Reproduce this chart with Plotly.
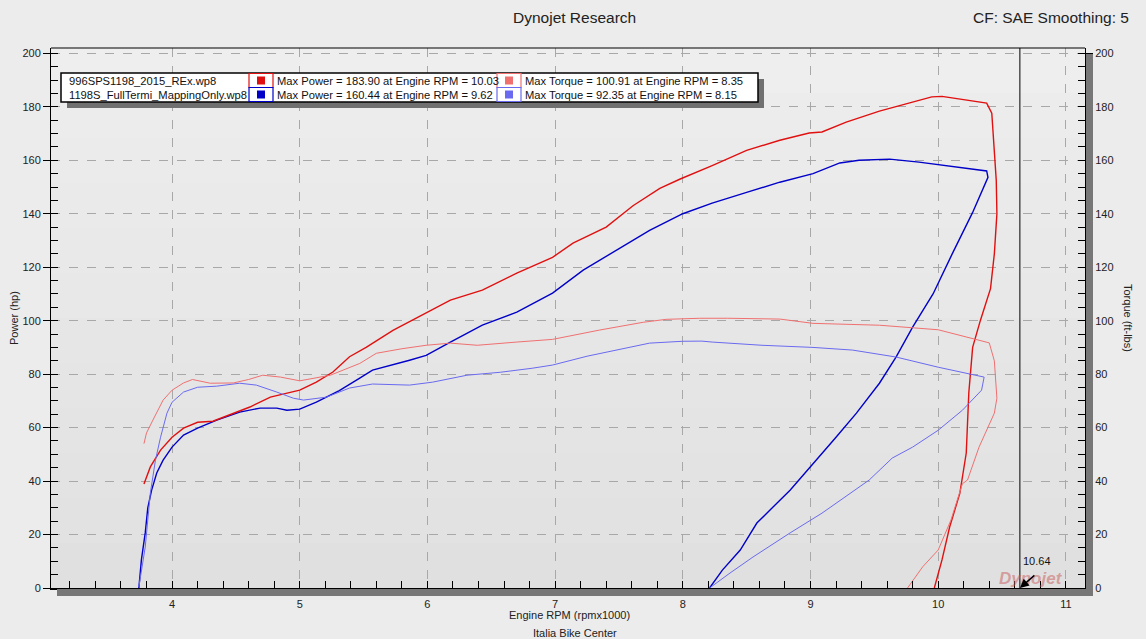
import plotly.graph_objects as go

# ---------------- data ----------------
run1_power_rpm = [3.78, 3.83, 3.91, 4.00, 4.09, 4.20, 4.32, 4.48, 4.61, 4.77, 5.00, 5.13, 5.26, 5.39, 5.52,
                  5.73, 5.99, 6.18, 6.43, 6.70, 6.98, 7.14, 7.40, 7.61, 7.82, 7.98, 8.23, 8.50, 8.76, 8.99,
                  9.09, 9.28, 9.54, 9.80, 9.95, 10.03, 10.19, 10.38, 10.42, 10.44, 10.455, 10.46, 10.44,
                  10.41, 10.33, 10.27, 10.24, 10.22, 10.17, 10.09, 10.03, 9.97]
run1_power_hp = [38.9, 45.3, 51.6, 56.4, 59.8, 62.0, 62.4, 65.4, 67.7, 71.4, 74.0, 77.0, 80.8, 86.5, 90.0,
                 96.4, 103.0, 107.7, 111.4, 117.8, 123.7, 129.0, 135.0, 143.0, 149.5, 153.0, 158.0, 163.7,
                 167.5, 170.2, 170.6, 174.3, 178.4, 181.8, 183.7, 183.9, 182.8, 181.4, 177.6, 165.0, 152.5,
                 140.0, 125.0, 112.0, 100.0, 90.0, 73.0, 50.5, 35.5, 22.8, 10.5, 0.0]

run1_torque_rpm = [3.78, 3.80, 3.85, 3.93, 4.00, 4.09, 4.16, 4.30, 4.48, 4.60, 4.71, 4.85, 5.00, 5.24, 5.47,
                   5.60, 5.80, 5.99, 6.18, 6.39, 6.70, 6.98, 7.35, 7.69, 7.87, 8.13, 8.35, 8.76, 9.02, 9.54,
                   10.00, 10.27, 10.40, 10.44, 10.46, 10.44, 10.32, 10.23, 10.19, 10.10, 10.00, 9.88, 9.76]
run1_torque_ftlb = [54.0, 58.0, 62.8, 70.3, 74.0, 76.7, 78.0, 76.6, 76.7, 78.0, 79.6, 78.9, 77.5, 79.6, 84.0,
                    87.8, 89.5, 90.8, 91.6, 90.8, 92.0, 93.0, 96.5, 99.4, 100.5, 100.9, 100.91, 100.6, 99.0,
                    98.3, 96.6, 93.2, 91.7, 85.0, 71.0, 65.4, 52.7, 40.4, 39.0, 25.4, 14.2, 8.0, 0.0]

run2_power_rpm = [3.74, 3.76, 3.79, 3.81, 3.84, 3.88, 3.93, 4.00, 4.09, 4.20, 4.35, 4.53, 4.69, 4.82, 4.90,
                  5.00, 5.13, 5.31, 5.47, 5.57, 5.86, 5.99, 6.18, 6.43, 6.70, 6.98, 7.22, 7.48, 7.74, 8.00,
                  8.23, 8.50, 8.76, 9.02, 9.23, 9.38, 9.62, 9.85, 10.06, 10.24, 10.38, 10.39, 10.27, 10.11,
                  9.96, 9.80, 9.67, 9.54, 9.36, 9.20, 9.02, 8.84, 8.58, 8.45, 8.31, 8.21]
run2_power_hp = [0.0, 10.5, 20.6, 30.0, 36.6, 43.0, 47.8, 52.7, 57.2, 59.8, 62.8, 65.8, 67.3, 67.3, 66.5,
                 66.9, 69.5, 73.8, 78.5, 81.5, 85.2, 87.0, 92.0, 98.3, 103.2, 110.3, 118.9, 126.4, 133.8,
                 140.0, 144.0, 148.0, 151.8, 155.0, 159.0, 160.0, 160.44, 159.3, 158.0, 157.0, 156.0, 153.6,
                 140.5, 125.0, 110.0, 97.6, 86.4, 76.6, 65.4, 56.4, 46.7, 36.6, 24.3, 14.2, 6.7, 0.0]

run2_torque_rpm = [3.74, 3.79, 3.83, 3.87, 3.91, 3.96, 4.00, 4.09, 4.20, 4.35, 4.53, 4.66, 4.82, 4.95, 5.03,
                   5.21, 5.39, 5.57, 5.86, 6.04, 6.31, 6.57, 6.82, 6.98, 7.25, 7.48, 7.74, 8.00, 8.15, 8.23,
                   8.62, 9.02, 9.33, 9.67, 10.00, 10.36, 10.34, 10.19, 10.00, 9.80, 9.64, 9.46, 9.09, 8.84,
                   8.55, 8.37, 8.21]
run2_torque_ftlb = [0.4, 15.3, 35.5, 47.8, 56.4, 65.4, 69.5, 73.3, 75.1, 75.5, 76.6, 75.9, 73.3, 71.0, 70.3,
                    71.4, 74.8, 76.3, 75.9, 77.0, 79.6, 80.7, 82.2, 83.4, 86.7, 89.0, 91.6, 92.3, 92.35, 92.0,
                    90.8, 90.0, 89.0, 86.4, 82.6, 78.9, 74.0, 66.5, 59.0, 52.7, 48.6, 40.4, 28.0, 20.6, 11.6,
                    5.6, 0.0]

run_names = ["996SPS1198_2015_REx.wp8", "1198S_FullTermi_MappingOnly.wp8"]
power_labels = ["Max Power = 183.90 at Engine RPM = 10.03", "Max Power = 160.44 at Engine RPM = 9.62"]
torque_labels = ["Max Torque = 100.91 at Engine RPM = 8.35", "Max Torque = 92.35 at Engine RPM = 8.15"]
cursor_rpm = 10.64
y_ticks = list(range(0, 201, 20))
x_ticks = [4, 5, 6, 7, 8, 9, 10, 11]

# ---------------- styling ----------------
C_P1, C_T1 = "#e01010", "#f07070"
C_P2, C_T2 = "#0000c8", "#6a6af0"
FONT = "Liberation Sans"

W, H = 1146, 639
L, R, T, B = 51, 61, 48, 51
PW, PH = W - L - R, H - T - B


def px(x):
    return (x - L) / PW


def py(y):
    return (H - B - y) / PH


fig = go.Figure()
fig.add_trace(go.Scatter(x=run2_torque_rpm, y=run2_torque_ftlb, mode="lines", yaxis="y2",
                         line=dict(color=C_T2, width=1), showlegend=False))
fig.add_trace(go.Scatter(x=run1_torque_rpm, y=run1_torque_ftlb, mode="lines", yaxis="y2",
                         line=dict(color=C_T1, width=1), showlegend=False))
fig.add_trace(go.Scatter(x=run2_power_rpm, y=run2_power_hp, mode="lines",
                         line=dict(color=C_P2, width=1.4), showlegend=False))
fig.add_trace(go.Scatter(x=run1_power_rpm, y=run1_power_hp, mode="lines",
                         line=dict(color=C_P1, width=1.4), showlegend=False))

shapes = []
# background bands (soft gradient)
n = 12
for i in range(n):
    g = int(0xee - i * 1.2)
    shapes.append(dict(type="rect", xref="paper", yref="paper", x0=0, x1=1,
                       y0=1 - (i + 1) / n, y1=1 - i / n, layer="below", line_width=0,
                       fillcolor=f"rgb({g},{g},{g})"))
# axis shadows
shapes.append(dict(type="rect", xref="paper", yref="paper", x0=px(57), x1=px(1093), y0=py(596), y1=py(589),
                   fillcolor="#777777", line_width=0))
shapes.append(dict(type="rect", xref="paper", yref="paper", x0=px(1086), x1=px(1093), y0=py(596), y1=py(54),
                   fillcolor="#777777", line_width=0))
# cursor line
shapes.append(dict(type="line", xref="x", yref="paper", x0=cursor_rpm, x1=cursor_rpm, y0=0, y1=1,
                   line=dict(color="black", width=1)))
# legend box with shadow
lx0, lx1, ly0, ly1 = 61, 758, 73, 102
shapes.append(dict(type="rect", xref="paper", yref="paper", x0=px(lx0 + 6), x1=px(lx1 + 6),
                   y0=py(ly1 + 6), y1=py(ly0 + 6), fillcolor="#707070", line_width=0))
shapes.append(dict(type="rect", xref="paper", yref="paper", x0=px(lx0), x1=px(lx1),
                   y0=py(ly1), y1=py(ly0), fillcolor="white", line=dict(color="black", width=1.5)))

annotations = []
rows_y = [80.5, 94.5]
sw = [(C_P1, C_T1), (C_P2, C_T2)]
LF = dict(family=FONT, size=11.2, color="#111")
for i in range(2):
    yc = rows_y[i]
    annotations.append(dict(xref="paper", yref="paper", x=px(67), y=py(yc), text=run_names[i],
                            showarrow=False, xanchor="left", yanchor="middle", font=LF))
    for j, bx in enumerate([249, 497]):
        col = sw[i][j]
        shapes.append(dict(type="rect", xref="paper", yref="paper", x0=px(bx), x1=px(bx + 24),
                           y0=py(yc + 7), y1=py(yc - 7), fillcolor="white", line=dict(color=col, width=1.2)))
        shapes.append(dict(type="rect", xref="paper", yref="paper", x0=px(bx + 8), x1=px(bx + 16),
                           y0=py(yc + 4), y1=py(yc - 4), fillcolor=col, line_width=0))
    annotations.append(dict(xref="paper", yref="paper", x=px(275), y=py(yc), text=power_labels[i],
                            showarrow=False, xanchor="left", yanchor="middle", font=LF))
    annotations.append(dict(xref="paper", yref="paper", x=px(523), y=py(yc), text=torque_labels[i],
                            showarrow=False, xanchor="left", yanchor="middle", font=LF))

# titles
annotations += [
    dict(xref="paper", yref="paper", x=px(574), y=py(17), text="Dynojet Research", showarrow=False,
         xanchor="center", yanchor="middle", font=dict(family=FONT, size=15.5, color="#222")),
    dict(xref="paper", yref="paper", x=px(1131), y=py(17), text="CF: SAE Smoothing: 5", showarrow=False,
         xanchor="right", yanchor="middle", font=dict(family=FONT, size=15.5, color="#222")),
    dict(xref="paper", yref="paper", x=px(14), y=py(318), text="Power (hp)", showarrow=False, textangle=-90,
         xanchor="center", yanchor="middle", font=dict(family=FONT, size=11, color="#222")),
    dict(xref="paper", yref="paper", x=px(1128), y=py(318), text="Torque (ft-lbs)", showarrow=False,
         textangle=90, xanchor="center", yanchor="middle", font=dict(family=FONT, size=11, color="#222")),
    dict(xref="paper", yref="paper", x=px(569), y=py(615), text="Engine RPM (rpmx1000)", showarrow=False,
         xanchor="center", yanchor="middle", font=dict(family=FONT, size=11, color="#222")),
    dict(xref="paper", yref="paper", x=px(575), y=py(633), text="Italia Bike Center", showarrow=False,
         xanchor="center", yanchor="middle", font=dict(family=FONT, size=11, color="#222")),
    # watermark
    dict(xref="paper", yref="paper", x=px(1031), y=py(578.5), text="<b><i>Dynojet</i></b>", showarrow=False,
         xanchor="center", yanchor="middle",
         font=dict(family=FONT, size=17, color="rgba(200,90,90,0.5)")),
    # cursor label
    dict(xref="x", yref="paper", x=cursor_rpm, y=py(561), text=f"{cursor_rpm:.2f}", showarrow=False,
         xanchor="left", yanchor="middle", xshift=1, font=dict(family=FONT, size=11, color="#111")),
    dict(xref="x", yref="y", x=cursor_rpm, y=0, text="", showarrow=True, arrowhead=2, arrowsize=1.2,
         arrowwidth=1.5, arrowcolor="black", ax=16, ay=-14),
]

axis_common = dict(showline=True, linecolor="black", linewidth=1, mirror=False,
                   tickfont=dict(family=FONT, size=11, color="#222"), zeroline=False)

fig.update_layout(
    width=W, height=H, autosize=False,
    margin=dict(l=L, r=R, t=T, b=B, pad=0),
    paper_bgcolor="#ececec", plot_bgcolor="#e6e6e6",
    showlegend=False,
    xaxis=dict(range=[3.052, 11.15], tickvals=x_ticks, ticks="outside", ticklen=5, tickcolor="black",
               showgrid=True, gridcolor="#a8a8a8", griddash="dash", gridwidth=1,
               minor=dict(dtick=0.2, tick0=0, ticks="inside", ticklen=7, tickcolor="black", showgrid=False),
               **{**axis_common, "linewidth": 2}),
    yaxis=dict(range=[0, 202], tickvals=y_ticks, ticks="outside", ticklen=7, tickcolor="black",
               showgrid=True, gridcolor="#a8a8a8", griddash="dash", gridwidth=1,
               minor=dict(dtick=5, tick0=0, ticks="inside", ticklen=7, tickcolor="black", showgrid=False),
               **axis_common),
    yaxis2=dict(range=[0, 202], tickvals=y_ticks, overlaying="y", side="right", ticks="outside", ticklen=7,
                tickcolor="black", showgrid=False,
                minor=dict(dtick=5, tick0=0, ticks="inside", ticklen=7, tickcolor="black"),
                **axis_common),
    shapes=shapes,
    annotations=annotations,
)
# top border
fig.add_shape(type="line", xref="paper", yref="paper", x0=0, x1=1, y0=1, y1=1, line=dict(color="black", width=1))

fig.write_html("out.html", config={"displayModeBar": False},
               post_script="document.body.style.margin='0';document.body.style.overflow='hidden';")
